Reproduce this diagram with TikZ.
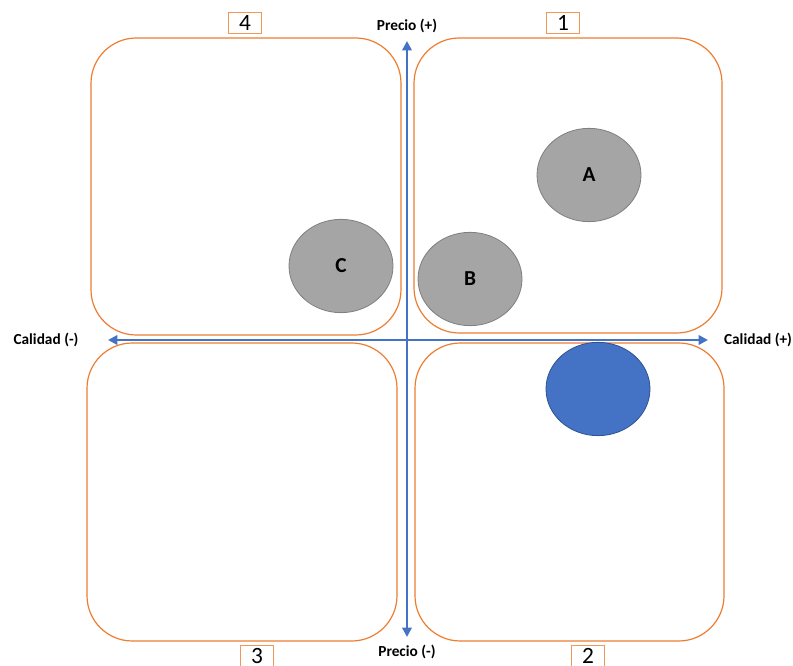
\documentclass[tikz,border=0pt]{standalone}
\usepackage{fontspec}
\setmainfont{Carlito}
\usetikzlibrary{arrows.meta,shapes.geometric}
\definecolor{qorange}{HTML}{ED7D31}
\definecolor{qblue}{HTML}{4472C4}
\definecolor{qblued}{HTML}{2F528F}
\definecolor{qgray}{HTML}{A5A5A5}
\definecolor{qgrayd}{HTML}{7F7F7F}
\begin{document}
\begin{tikzpicture}[x=0.75pt,y=-0.75pt,
  quad/.style={draw=qorange,line width=0.9pt,rounded corners=34pt},
  numbox/.style={draw=qorange!80,line width=1pt,minimum width=25pt,minimum height=16pt,inner sep=0pt,font=\fontsize{17.5}{17.5}\selectfont},
  axis/.style={draw=qblue,line width=2.2pt,-{Triangle[length=7pt,width=7pt]}},
  axlabel/.style={font=\bfseries\fontsize{11.5}{12}\selectfont,inner sep=1pt},
  ballg/.style={ellipse,draw=qgrayd,fill=qgray,line width=0.6pt,minimum width=78pt,minimum height=70pt,inner sep=0pt,font=\bfseries\fontsize{16}{16}\selectfont},
  ballb/.style={ellipse,draw=qblued,fill=qblue,line width=0.6pt,minimum width=78pt,minimum height=70pt,inner sep=0pt}
]
\useasboundingbox (0,0) rectangle (793,666);
% quadrants
\draw[quad] (91,38) rectangle (401,335);
\draw[quad] (414,38) rectangle (722,333);
\draw[quad] (87,343) rectangle (397,641);
\draw[quad] (415,343) rectangle (724,641);
% number boxes
\node[numbox] (n4) at (245,23) {4};
\node[numbox] (n1) at (563,23) {1};
\node[numbox] (n3) at (257,656) {3};
\node[numbox] (n2) at (588,656) {2};
% axes
\coordinate (c) at (407,340);
\coordinate (top) at (407,41);
\coordinate (bot) at (407,637);
\coordinate (lft) at (108,340);
\coordinate (rgt) at (708,340);
\draw[axis] (c) -- (top);
\draw[axis] (c) -- (bot);
\draw[axis] (c) -- (lft);
\draw[axis] (c) -- (rgt);
\node[axlabel] (pp) at (407,26) {Precio (+)};
\node[axlabel] (pm) at (407,652) {Precio (-)};
\node[axlabel] (cm) at (46,340) {Calidad (-)};
\node[axlabel] (cp) at (758,340) {Calidad (+)};
% balls
\node[ballg] (A) at (589,175) {A};
\node[ballg] (B) at (470,279) {B};
\node[ballg] (C) at (341,266) {C};
\node[ballb] (D) at (598,389) {};
\end{tikzpicture}
\end{document}
